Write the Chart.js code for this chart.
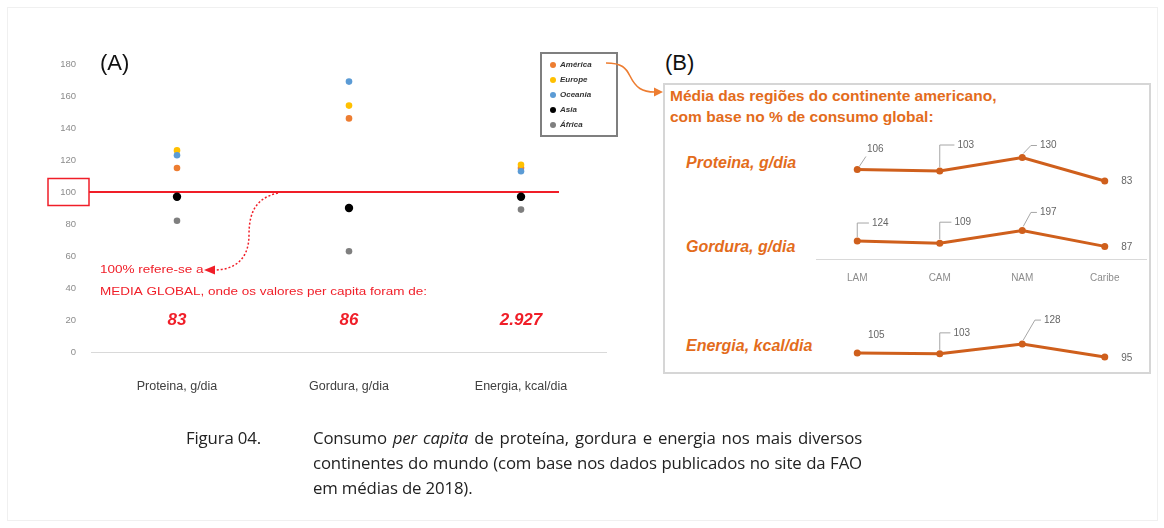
<!DOCTYPE html>
<html>
<head>
<meta charset="utf-8">
<script src="https://cdn.jsdelivr.net/npm/chart.js@4.4.0/dist/chart.umd.min.js"></script>
<style>
  body { margin: 0; background: #fff; width: 1164px; height: 528px; position: relative; overflow: hidden; font-family: 'Liberation Sans', Arial, sans-serif; }
  .abs { position: absolute; }
  #frame { left: 7px; top: 7px; width: 1149px; height: 512px; border: 1px solid #f0f0f0; }
  .tag { font-size: 22px; color: #111; }
  #legend { left: 540px; top: 52px; width: 78px; height: 85px; border: 2px solid #7f7f7f; box-sizing: border-box; }
  #legend div { position: absolute; left: 8px; font: italic bold 8px 'Liberation Sans', Arial, sans-serif; color: #333; line-height: 10px; }
  #legend span { display: inline-block; width: 6px; height: 6px; border-radius: 50%; margin-right: 4px; vertical-align: -1px; }
  #panel { left: 663px; top: 83px; width: 488px; height: 291px; border: 2px solid #d6d6d6; box-sizing: border-box; }
  .orange { color: #E36C1C; font-weight: bold; }
  .rowlab { font-style: italic; font-size: 16px; line-height: 18px; }
  #caption { font-family: 'Open Sans', sans-serif; font-size: 16.8px; letter-spacing: -0.15px; color: #222; }
  .cl { position: absolute; left: 313px; width: 549px; height: 25px; line-height: 25px; text-align: justify; text-align-last: justify; white-space: nowrap; }
</style>
</head>
<body>
<div id="frame" class="abs"></div>
<canvas id="chartA" class="abs" style="left:0;top:0" width="640" height="400"></canvas>
<div class="abs tag" style="left:100px;top:50px">(A)</div>
<div class="abs tag" style="left:665px;top:50px">(B)</div>
<div id="legend" class="abs"></div>

<div id="panel" class="abs"></div>
<div class="abs orange" style="left:670px;top:85px;font-size:15.5px;line-height:21px">Média das regiões do continente americano,<br>com base no % de consumo global:</div>
<div class="abs orange rowlab" style="left:686px;top:154px">Proteina, g/dia</div>
<div class="abs orange rowlab" style="left:686px;top:238px">Gordura, g/dia</div>
<div class="abs orange rowlab" style="left:686px;top:337px">Energia, kcal/dia</div>
<canvas id="chartP" class="abs" style="left:663px;top:120px" width="487" height="85"></canvas>
<canvas id="chartG" class="abs" style="left:663px;top:195px" width="487" height="95"></canvas>
<canvas id="chartE" class="abs" style="left:663px;top:295px" width="487" height="77"></canvas>

<svg class="abs" style="left:0;top:0" width="1164" height="528">
  <path d="M606 63 C622 63 626 68 630 76 C636 88 642 92 655 92" fill="none" stroke="#ED7D31" stroke-width="1.6"/>
  <path d="M663 92 L654 87.5 L654 96.5 Z" fill="#ED7D31"/>
</svg>

<div id="caption">
  <div class="abs" style="left:186px;top:425px;line-height:25px">Figura 04.</div>
  <div class="cl" style="top:425px">Consumo <i>per capita</i> de proteína, gordura e energia nos mais diversos</div>
  <div class="cl" style="top:450px">continentes do mundo (com base nos dados publicados no site da FAO</div>
  <div class="cl" style="top:475px;text-align:left;text-align-last:left">em médias de 2018).</div>
</div>

<script>
// (A) per capita consumption, % of the global mean
const categories = ['Proteina, g/dia', 'Gordura, g/dia', 'Energia, kcal/dia'];
const continents = ['América', 'Europe', 'Oceania', 'Asia', 'África'];
const america = [115, 146, 115];
const europe = [126, 154, 117];
const oceania = [123, 169, 113];
const asia = [97, 90, 97];
const africa = [82, 63, 89];
const globalMeans = ['83', '86', '2.927'];

// (B) regions of the american continent, % of the global mean
const regions = ['LAM', 'CAM', 'NAM', 'Caribe'];
const proteinaPct = [106, 103, 130, 83];
const gorduraPct = [124, 109, 197, 87];
const energiaPct = [105, 103, 128, 95];

const RED = '#F01E28';
const ORANGE_LINE = '#CF5F1C';

const series = [america, europe, oceania, asia, africa];
const colors = ['#ED7D31', '#FFC000', '#5B9BD5', '#000000', '#7F7F7F'];
const radii = [3.3, 3.3, 3.3, 4.2, 3.3];
const drawOrder = [2, 1, 0, 3, 4];

// legend box
const legend = document.getElementById('legend');
continents.forEach((name, i) => {
    const d = document.createElement('div');
    d.style.top = (6 + i * 15) + 'px';
    d.innerHTML = '<span style="background:' + colors[i] + '"></span>' + name;
    legend.appendChild(d);
});

// draw text squeezed/stretched to a given width
function fitText(ctx, text, x, y, width) {
    const w = ctx.measureText(text).width;
    ctx.save();
    ctx.translate(x, y);
    ctx.scale(width / w, 1);
    ctx.fillText(text, 0, 0);
    ctx.restore();
}

const annotA = {
    id: 'annotA',
    beforeDatasetsDraw(chart) {
        const { ctx, scales: { y } } = chart;
        const y100 = y.getPixelForValue(100);
        ctx.save();
        ctx.strokeStyle = RED;
        ctx.lineWidth = 2;
        ctx.beginPath();
        ctx.moveTo(89, y100);
        ctx.lineTo(559, y100);
        ctx.stroke();
        ctx.lineWidth = 1.5;
        ctx.strokeRect(48, y100 - 13.5, 41, 27);
        ctx.restore();
    },
    afterDraw(chart) {
        const { ctx, scales: { x, y } } = chart;
        const y100 = y.getPixelForValue(100);
        ctx.save();
        ctx.strokeStyle = RED;
        ctx.fillStyle = RED;
        ctx.lineWidth = 1.5;
        ctx.setLineDash([2, 2]);
        ctx.beginPath();
        ctx.moveTo(278, y100 + 1);
        ctx.bezierCurveTo(256, 198, 249, 212, 249, 235);
        ctx.bezierCurveTo(249, 258, 236, 270, 214, 270);
        ctx.stroke();
        ctx.setLineDash([]);
        ctx.beginPath();
        ctx.moveTo(204, 270);
        ctx.lineTo(215, 265.5);
        ctx.lineTo(215, 274.5);
        ctx.closePath();
        ctx.fill();

        ctx.font = '11.5px "Liberation Sans"';
        ctx.textAlign = 'left';
        ctx.textBaseline = 'middle';
        const line2 = 'MEDIA GLOBAL, onde os valores per capita foram de:';
        const k = 327 / ctx.measureText(line2).width;
        fitText(ctx, '100% refere-se a', 100, 270, ctx.measureText('100% refere-se a').width * k);
        fitText(ctx, line2, 100, 292, 327);

        ctx.font = 'italic bold 17px "Liberation Sans"';
        ctx.textAlign = 'center';
        globalMeans.forEach((t, i) => ctx.fillText(t, x.getPixelForValue(i), y.getPixelForValue(20)));
        ctx.restore();
    }
};

new Chart(document.getElementById('chartA'), {
    type: 'line',
    data: {
        labels: categories,
        datasets: series.map((d, i) => ({
            label: continents[i],
            data: d,
            showLine: false,
            order: drawOrder[i],
            pointRadius: radii[i],
            pointBackgroundColor: colors[i],
            pointBorderWidth: 0
        }))
    },
    options: {
        responsive: false,
        animation: false,
        layout: { padding: { left: 0, right: 33, top: 64, bottom: 0 } },
        plugins: { legend: { display: false }, tooltip: { enabled: false } },
        scales: {
            x: {
                offset: true,
                afterFit: (s) => { s.height = 48; },
                grid: { display: false, offset: true },
                border: { display: false },
                ticks: { color: '#404040', font: { size: 12.5, family: 'Liberation Sans' }, padding: 19 }
            },
            y: {
                min: 0,
                max: 180,
                afterFit: (s) => { s.width = 91; },
                border: { display: false },
                grid: {
                    drawTicks: false,
                    color: (c) => c.tick && c.tick.value === 0 ? '#d9d9d9' : 'rgba(0,0,0,0)'
                },
                ticks: { stepSize: 20, color: '#8c8c8c', font: { size: 9.5, family: 'Liberation Sans' }, padding: 15 }
            }
        }
    },
    plugins: [annotA]
});

// data labels with leader lines for the (B) panel
const labelSpots = {
    chartP: [[18, -20, 'diag'], [26, -26, 'elbow'], [26, -12, 'slant'], [22, 0, 'none']],
    chartG: [[23, -18, 'elbow'], [23, -21, 'elbow'], [26, -18, 'slant'], [22, 1, 'none']],
    chartE: [[19, -18, 'none'], [22, -21, 'elbow'], [30, -24, 'slant'], [22, 1, 'none']]
};

const pointLabels = {
    id: 'pointLabels',
    afterDatasetsDraw(chart) {
        const ctx = chart.ctx;
        const spots = labelSpots[chart.canvas.id];
        const meta = chart.getDatasetMeta(0);
        const vals = chart.data.datasets[0].data;
        ctx.save();
        ctx.font = '10px "Liberation Sans"';
        ctx.textAlign = 'center';
        ctx.textBaseline = 'middle';
        meta.data.forEach((pt, i) => {
            const [dx, dy, kind] = spots[i];
            const lx = pt.x + dx, ly = pt.y + dy;
            const w = ctx.measureText(String(vals[i])).width;
            ctx.strokeStyle = '#a6a6a6';
            ctx.lineWidth = 1;
            ctx.beginPath();
            if (kind === 'elbow') {
                ctx.moveTo(pt.x, pt.y - 4);
                ctx.lineTo(pt.x, ly);
                ctx.lineTo(lx - w / 2 - 3, ly);
            } else if (kind === 'slant') {
                ctx.moveTo(pt.x + 1, pt.y - 4);
                ctx.lineTo(lx - w / 2 - 9, ly);
                ctx.lineTo(lx - w / 2 - 3, ly);
            } else if (kind === 'diag') {
                ctx.moveTo(pt.x + 2, pt.y - 3);
                ctx.lineTo(lx - w / 2 - 1, ly + 7);
            }
            ctx.stroke();
            ctx.fillStyle = '#666';
            ctx.fillText(String(vals[i]), lx, ly);
        });
        ctx.restore();
    }
};

function regionChart(id, values, yMin, yMax, padTop, padBottom, showAxis) {
    new Chart(document.getElementById(id), {
        type: 'line',
        data: {
            labels: regions,
            datasets: [{
                data: values,
                borderColor: ORANGE_LINE,
                borderWidth: 3,
                pointRadius: 3.5,
                pointBackgroundColor: ORANGE_LINE,
                pointBorderWidth: 0,
                tension: 0,
                clip: false
            }]
        },
        options: {
            responsive: false,
            animation: false,
            layout: { padding: { left: 153, right: 3, top: padTop, bottom: padBottom } },
            plugins: { legend: { display: false }, tooltip: { enabled: false } },
            scales: {
                x: {
                    display: showAxis,
                    offset: true,
                    afterFit: (s) => { if (showAxis) s.height = 31; },
                    grid: { display: false, drawTicks: false, offset: true },
                    border: { display: true, color: '#d9d9d9', width: 1 },
                    ticks: { color: '#8c8c8c', font: { size: 10, family: 'Liberation Sans' }, padding: 13 }
                },
                y: { display: false, min: yMin, max: yMax }
            }
        },
        plugins: [pointLabels]
    });
}

regionChart('chartP', proteinaPct, 50, 150, 27.5, 7.5, false);
regionChart('chartG', gorduraPct, 0, 250, 27.75, 0, true);
regionChart('chartE', energiaPct, 70, 150, 40.5, 5.25, false);
</script>
</body>
</html>
